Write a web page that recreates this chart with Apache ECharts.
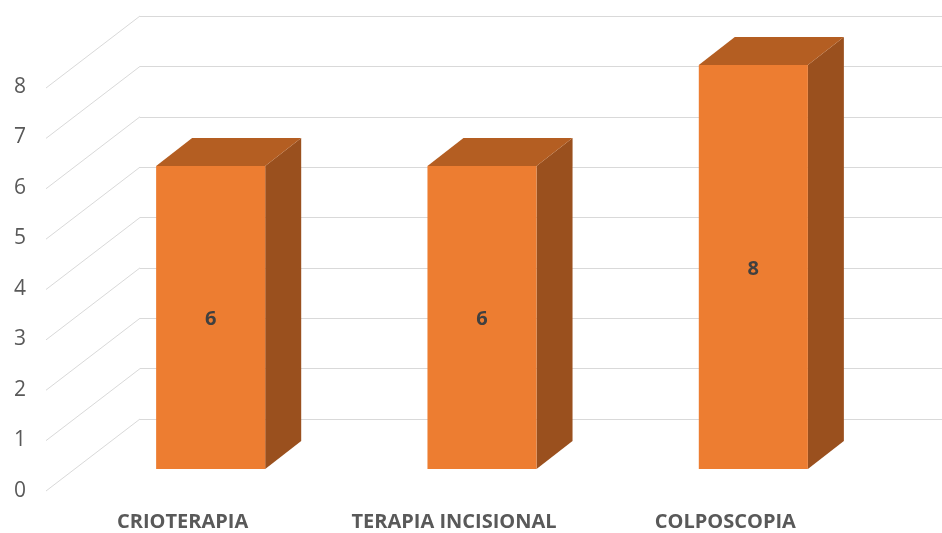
<!DOCTYPE html>
<html><head><meta charset="utf-8">
<script src="https://cdn.jsdelivr.net/npm/echarts@6/dist/echarts.min.js"></script>
<style>html,body{margin:0;padding:0;background:#fff}#c{width:942px;height:533px}</style>
</head><body><div id="c"></div>
<script>
const categories = ['CRIOTERAPIA', 'TERAPIA INCISIONAL', 'COLPOSCOPIA'];
const values = [6, 6, 8];
const yTicks = [0, 1, 2, 3, 4, 5, 6, 7, 8];

const FONT = '"Open Sans", sans-serif';
const FLOOR_DX = 94, FLOOR_DY = -72;   // front -> back wall offset
const BAR_DX = 36, BAR_DY = -28;       // bar depth offset
const BAR_RATIO = 0.402;

const chart = echarts.init(document.getElementById('c'), null, {renderer: 'canvas'});
chart.setOption({
  animation: false,
  backgroundColor: '#fff',
  grid: [
    {left: 140, right: 0, top: 16, bottom: 114},   // back wall
    {left: 75, right: 53, top: 65, bottom: 64},    // bar front plane
    {left: 47, right: 81, top: 87, bottom: 42}     // chart front plane
  ],
  xAxis: [
    {gridIndex: 0, type: 'value', min: 0, max: 1, show: false},
    {gridIndex: 1, type: 'category', data: categories, show: false},
    {gridIndex: 2, type: 'category', data: categories,
     axisLine: {show: false}, axisTick: {show: false},
     axisLabel: {interval: 0, margin: 21, color: '#595959', fontFamily: FONT, fontWeight: 'bold', fontSize: 20}}
  ],
  yAxis: [
    {gridIndex: 0, type: 'value', min: 0, max: 8, interval: 1,
     axisLine: {show: false}, axisTick: {show: false}, axisLabel: {show: false},
     splitLine: {lineStyle: {color: '#d9d9d9', width: 1}}},
    {gridIndex: 1, type: 'value', min: 0, max: 8, interval: 1, show: false},
    {gridIndex: 2, type: 'value', min: 0, max: 8, interval: 1,
     axisLine: {show: false}, axisTick: {show: false}, splitLine: {show: false},
     axisLabel: {margin: 21, color: '#595959', fontFamily: FONT, fontSize: 21}}
  ],
  series: [
    {
      type: 'custom', xAxisIndex: 0, yAxisIndex: 0, z: 1,
      data: yTicks.map(v => [0, v]),
      renderItem: function (params, api) {
        const p = api.coord([0, api.value(1)]);
        return {type: 'line', silent: true,
          shape: {x1: p[0], y1: p[1], x2: p[0] - FLOOR_DX, y2: p[1] - FLOOR_DY},
          style: {stroke: '#d9d9d9', lineWidth: 1}};
      }
    },
    {
      type: 'custom', xAxisIndex: 1, yAxisIndex: 1, z: 5,
      data: values.map((v, i) => [i, v]),
      renderItem: function (params, api) {
        const i = api.value(0), v = api.value(1);
        const pt = api.coord([i, v]);
        const pb = api.coord([i, 0]);
        const w = api.size([1, 0])[0] * BAR_RATIO;
        const x0 = pt[0] - w / 2, x1 = pt[0] + w / 2, yt = pt[1], yb = pb[1];
        return {type: 'group', children: [
          {type: 'polygon', shape: {points: [[x1, yt], [x1 + BAR_DX, yt + BAR_DY], [x1 + BAR_DX, yb + BAR_DY], [x1, yb]]},
           style: {fill: '#9A501E'}},
          {type: 'polygon', shape: {points: [[x0, yt], [x1, yt], [x1 + BAR_DX, yt + BAR_DY], [x0 + BAR_DX, yt + BAR_DY]]},
           style: {fill: '#B45E22'}},
          {type: 'rect', shape: {x: x0, y: yt, width: w, height: yb - yt},
           style: {fill: '#ED7D31'}},
          {type: 'text', x: pt[0], y: (yt + yb) / 2 + 2,
           style: {text: String(v), fill: '#404040', font: 'bold 20px ' + FONT, align: 'center', verticalAlign: 'middle'}}
        ]};
      }
    }
  ]
});
</script></body></html>
